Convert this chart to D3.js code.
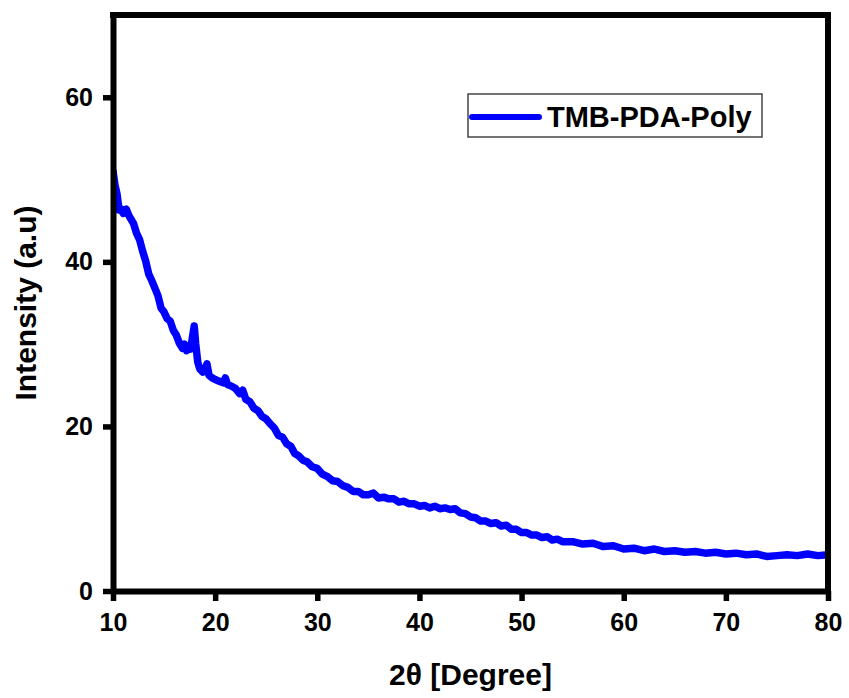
<!DOCTYPE html>
<html>
<head>
<meta charset="utf-8">
<script src="https://cdn.jsdelivr.net/npm/d3@7"></script>
<style>
  html, body { margin: 0; padding: 0; background: #fff; }
  svg { display: block; font-family: 'Liberation Sans', Arial, sans-serif; font-weight: bold; }
</style>
</head>
<body>
<svg id="chart" width="849" height="698"></svg>
<script>
// 2theta values (degree)
const twoTheta = [
  10.0, 10.2, 10.4, 10.6, 10.8, 11.0, 11.3, 11.6, 12.0, 12.3, 12.6, 12.9,
  13.2, 13.5, 13.8, 14.1, 14.4, 14.7, 15.0, 15.3, 15.6, 15.9, 16.2, 16.5,
  16.8, 17.0, 17.2, 17.4, 17.6, 17.8, 17.95, 18.1, 18.3, 18.5, 18.8, 19.0,
  19.2, 19.4, 19.7, 20.0, 20.4, 20.8, 21.0, 21.2, 21.6, 22.0, 22.4, 22.7,
  23.0, 23.4, 23.8, 24.2, 24.6, 25.0, 25.4, 25.8, 26.2, 26.6, 27.0, 27.4,
  27.8, 28.2, 28.6, 29.0, 29.5, 30.0, 30.5, 31.0, 31.5, 32.0, 32.5, 33.0,
  33.5, 34.0, 34.5, 35.0, 35.5, 36.0, 36.5, 37.0, 37.5, 38.0, 38.5, 39.0,
  39.5, 40.0, 40.5, 41.0, 41.5, 42.0, 42.5, 43.0, 43.5, 44.0, 44.5, 45.0,
  45.5, 46.0, 46.5, 47.0, 47.5, 48.0, 48.5, 49.0, 49.5, 50.0, 50.5, 51.0,
  51.5, 52.0, 52.5, 53.0, 53.5, 54.0, 55.0, 56.0, 57.0, 58.0, 59.0, 60.0,
  61.0, 62.0, 63.0, 64.0, 65.0, 66.0, 67.0, 68.0, 69.0, 70.0, 71.0, 72.0,
  73.0, 74.0, 75.0, 76.0, 77.0, 78.0, 79.0, 80.0
]

// intensity (a.u)
const intensity = [
  51.0, 49.3, 48.2, 46.3, 46.4, 45.9, 46.4, 45.5, 44.7, 43.5, 42.7, 41.3,
  40.1, 38.5, 37.7, 36.8, 35.9, 34.4, 33.9, 33.1, 32.8, 31.7, 31.1, 30.1,
  29.5, 30.0, 29.2, 29.8, 29.4, 31.0, 32.2, 30.0, 27.8, 27.0, 26.6, 26.8,
  27.6, 26.2, 25.9, 25.7, 25.5, 25.3, 25.9, 25.1, 24.9, 24.6, 24.0, 24.4,
  23.3, 23.0, 22.2, 21.9, 21.2, 20.9, 20.3, 19.8, 18.9, 18.7, 17.9, 17.6,
  16.7, 16.4, 15.9, 15.7, 15.1, 14.9, 14.2, 13.9, 13.4, 13.3, 12.8, 12.6,
  12.1, 12.1, 11.7, 11.7, 11.9, 11.3, 11.4, 11.2, 11.2, 10.8, 10.9, 10.6,
  10.6, 10.3, 10.4, 10.1, 10.3, 10.0, 10.1, 9.9, 10.0, 9.5, 9.4, 9.0,
  8.9, 8.5, 8.5, 8.2, 8.3, 7.9, 8.0, 7.5, 7.5, 7.1, 7.1, 6.8,
  6.8, 6.5, 6.6, 6.2, 6.3, 6.0, 6.0, 5.7, 5.8, 5.4, 5.5, 5.1,
  5.2, 4.9, 5.1, 4.8, 4.9, 4.7, 4.8, 4.6, 4.7, 4.5, 4.6, 4.4,
  4.5, 4.2, 4.3, 4.4, 4.3, 4.5, 4.3, 4.4
]

const xTicks = [10, 20, 30, 40, 50, 60, 70, 80]
const yTicks = [0, 20, 40, 60]
const seriesName = 'TMB-PDA-Poly'

const width = 849
const height = 698
const margin = { top: 15, right: 21, bottom: 107, left: 113 }

const svg = d3.select('#chart')

const x = d3.scaleLinear()
  .domain([10, 80])
  .range([margin.left, width - margin.right])

const y = d3.scaleLinear()
  .domain([0, 70])
  .range([height - margin.bottom, margin.top])

const data = twoTheta.map((t, i) => ({ x: t, y: intensity[i] }))

// clip the curve to the plot frame
svg.append('defs')
  .append('clipPath')
  .attr('id', 'plot-clip')
  .append('rect')
  .attr('x', x(10))
  .attr('y', y(70))
  .attr('width', x(80) - x(10))
  .attr('height', y(0) - y(70))

// the curve
svg.append('path')
  .datum(data)
  .attr('clip-path', 'url(#plot-clip)')
  .attr('fill', 'none')
  .attr('stroke', '#0000ff')
  .attr('stroke-width', 7.5)
  .attr('stroke-linejoin', 'round')
  .attr('stroke-linecap', 'round')
  .attr('d', d3.line().x(d => x(d.x)).y(d => y(d.y)))

// axes
const xAxis = svg.append('g')
  .attr('transform', `translate(0,${y(0)})`)
  .call(d3.axisBottom(x).tickValues(xTicks).tickSize(10).tickPadding(8).tickSizeOuter(0))

const yAxis = svg.append('g')
  .attr('transform', `translate(${x(10)},0)`)
  .call(d3.axisLeft(y).tickValues(yTicks).tickSize(10).tickPadding(10).tickSizeOuter(0))

;[xAxis, yAxis].forEach(ax => {
  ax.select('.domain').attr('stroke', '#000').attr('stroke-width', 6)
  ax.selectAll('.tick line').attr('stroke', '#000').attr('stroke-width', 5.5)
  ax.selectAll('.tick text')
    .attr('fill', '#000')
    .style('font-size', '25px')
    .style('font-weight', 'bold')
    .style('font-family', "'Liberation Sans', Arial, sans-serif")
})
xAxis.selectAll('.tick text').attr('dy', '0.88em')

// top and right frame
svg.append('path')
  .attr('d', `M${x(10) - 3},${y(70)}H${x(80)}V${y(0) + 3}`)
  .attr('fill', 'none')
  .attr('stroke', '#000')
  .attr('stroke-width', 6)

// axis titles
svg.append('text')
  .attr('x', (x(10) + x(80)) / 2)
  .attr('y', 685)
  .attr('text-anchor', 'middle')
  .style('font-size', '30px')
  .text('2θ [Degree]')

svg.append('text')
  .attr('transform', `translate(36,${(y(0) + y(70)) / 2}) rotate(-90)`)
  .attr('text-anchor', 'middle')
  .style('font-size', '30px')
  .text('Intensity (a.u)')

// legend
const legendG = svg.append('g').attr('id', 'legend')
legendG.append('rect')
  .attr('x', 468)
  .attr('y', 94)
  .attr('width', 294)
  .attr('height', 43)
  .attr('fill', '#fff')
  .attr('stroke', '#444')
  .attr('stroke-width', 1.5)
legendG.append('line')
  .attr('x1', 472).attr('x2', 539)
  .attr('y1', 117).attr('y2', 117)
  .attr('stroke', '#0000ff')
  .attr('stroke-width', 6)
  .attr('stroke-linecap', 'round')
legendG.append('text')
  .attr('x', 547)
  .attr('y', 127)
  .style('font-size', '29px')
  .text(seriesName)
</script>
</body>
</html>
